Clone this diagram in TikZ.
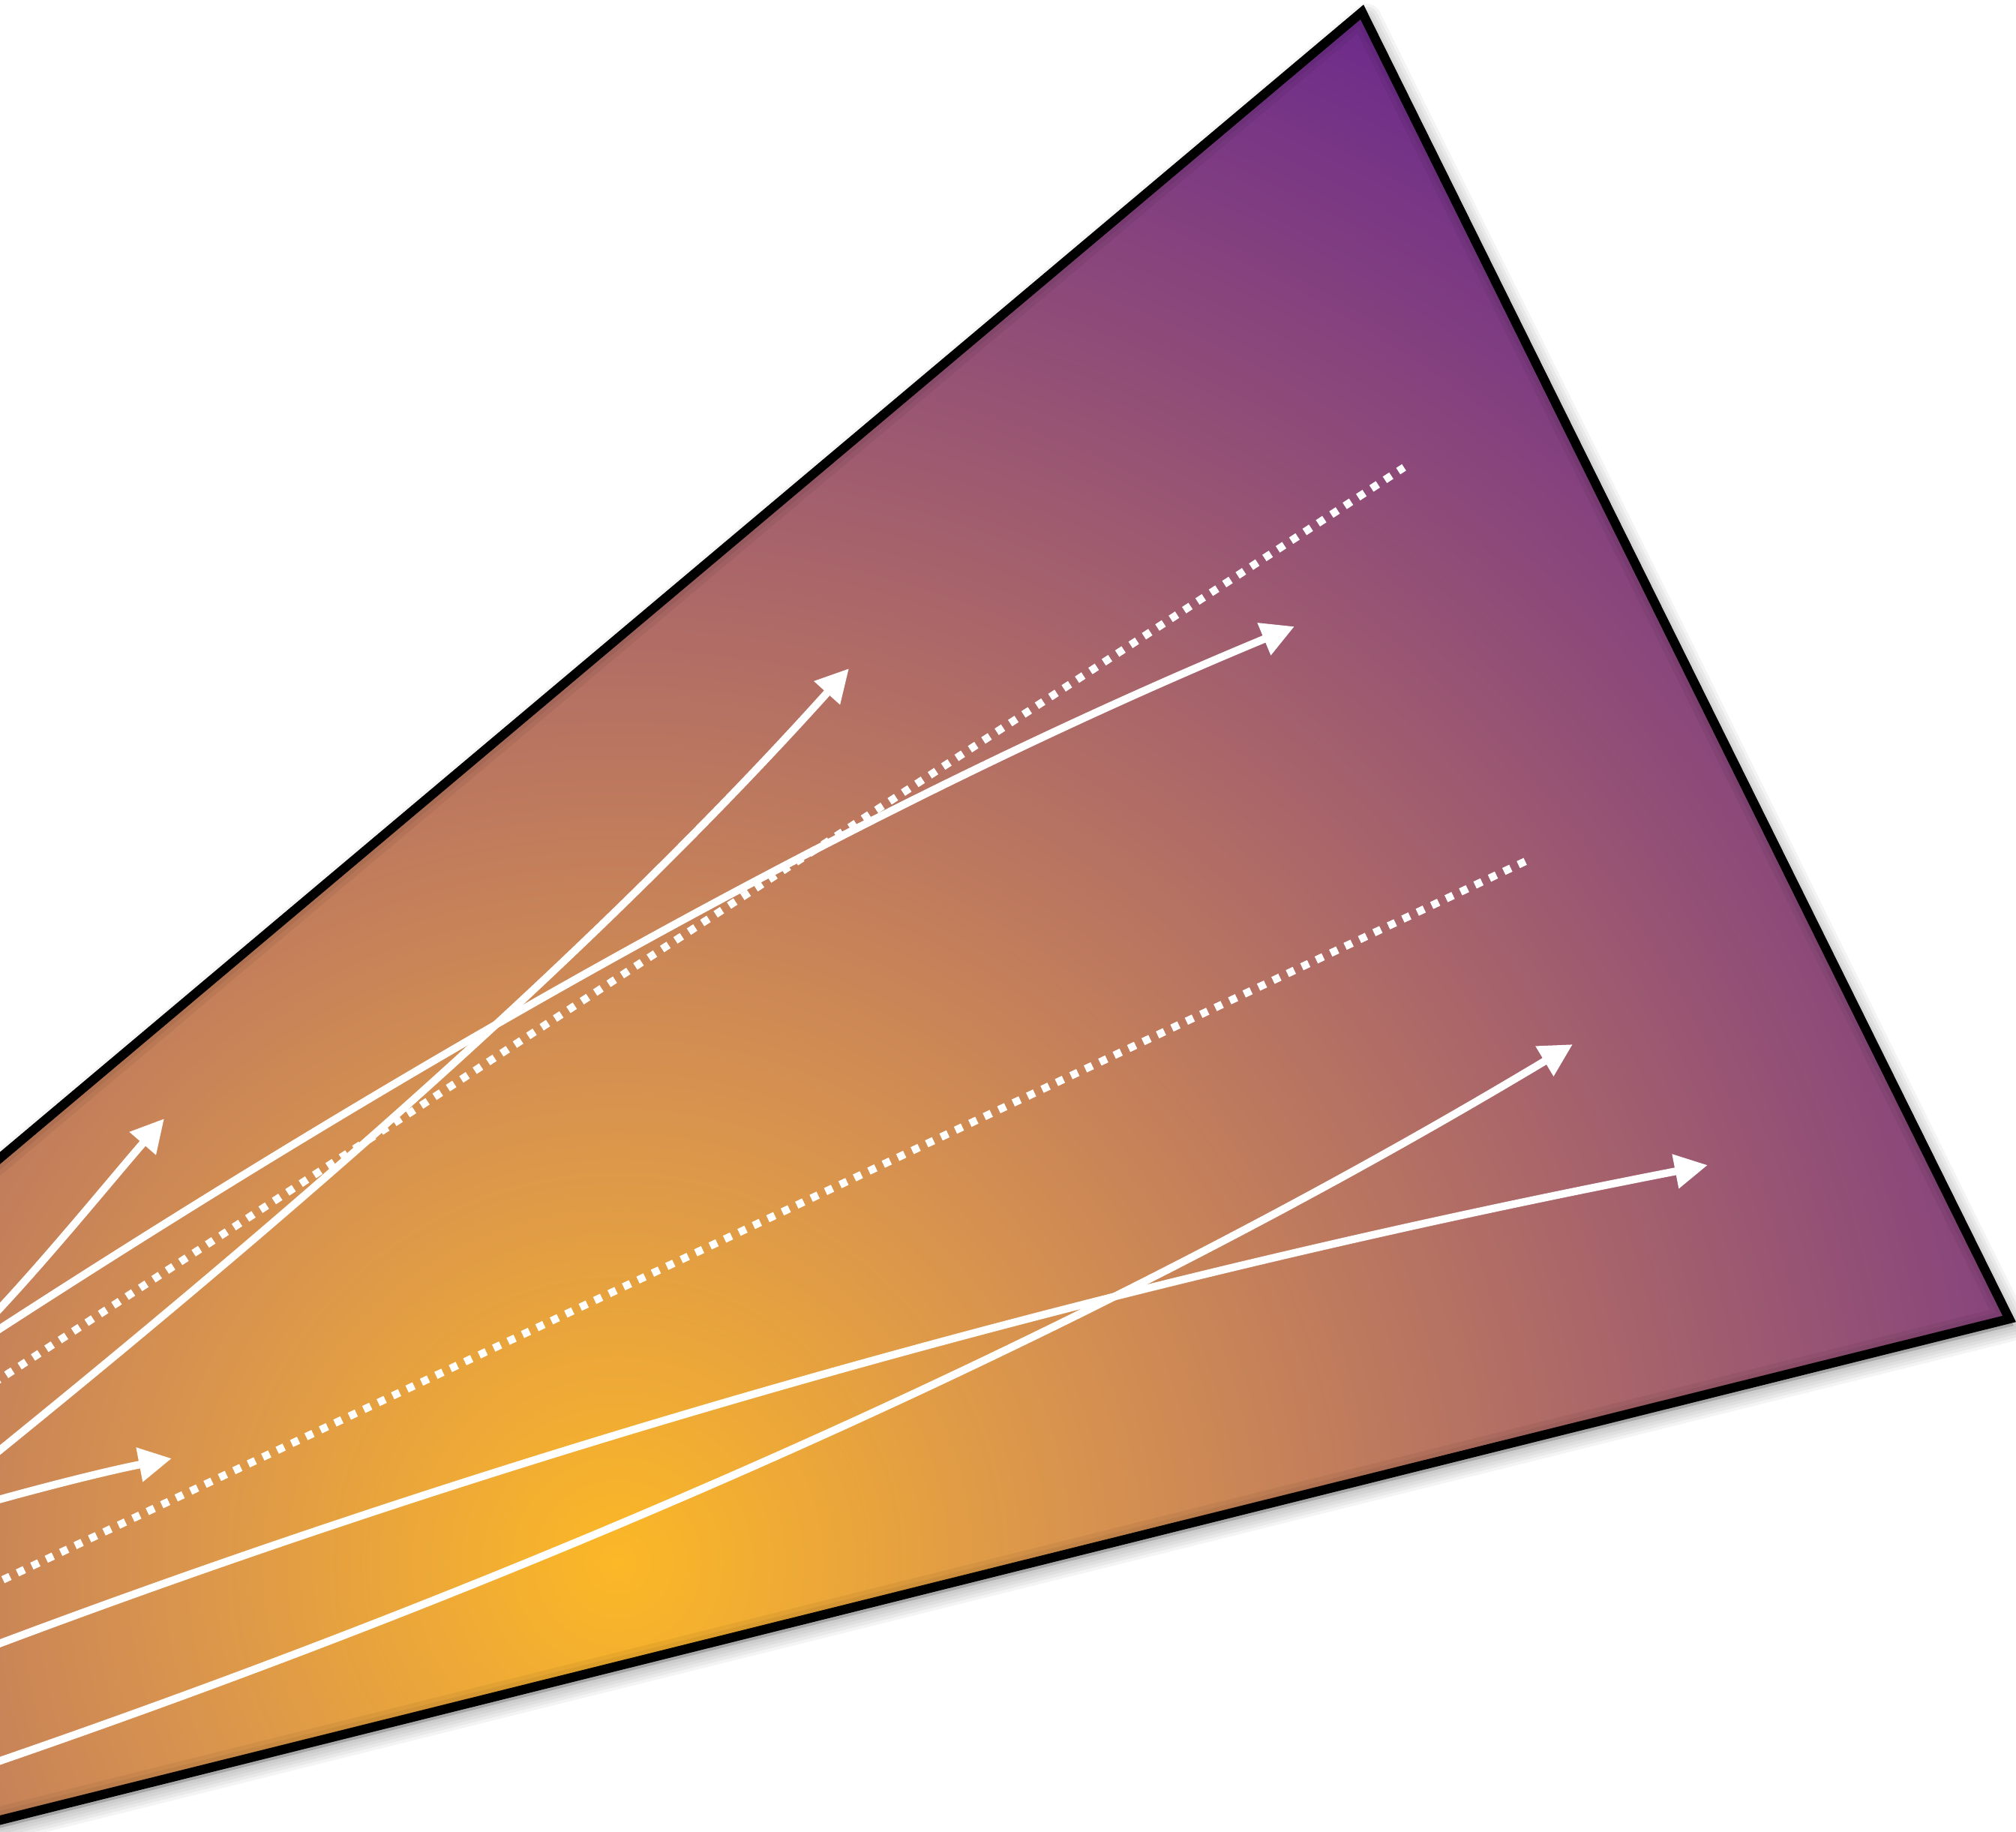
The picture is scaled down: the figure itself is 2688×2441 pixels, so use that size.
\documentclass[tikz,border=0pt]{standalone}
\usetikzlibrary{arrows.meta}
\definecolor{glowyellow}{RGB}{252,184,38}
\definecolor{gloworange}{RGB}{217,148,78}
\definecolor{glowpurple}{RGB}{108,42,140}
\pgfdeclareradialshading{glow}{\pgfpointorigin}{color(0bp)=(glowyellow); color(6.5bp)=(gloworange); color(25bp)=(glowpurple); color(50bp)=(glowpurple)}
\newcommand\myframe[1]{\path[#1] (1816,16) -- (2679,1758) -- (-300,2501) -- (-300,1796) -- cycle;}
\begin{document}
\begin{tikzpicture}[x=0.01cm, y=-0.01cm,
  frame/.style={draw=black, line width=3.5pt, line join=miter},
  ray/.style={draw=white, line width=2.9pt, -{Triangle[length=12.5pt,width=12.5pt]}},
  dotray/.style={draw=white, line width=2.9pt, dash pattern=on 2.9pt off 3.15pt}]
\useasboundingbox (0,0) rectangle (2688,2441);
\clip (0,0) rectangle (2688,2441);
% drop shadow
\begin{scope}[shift={(6,9)}]
  \myframe{fill=black, fill opacity=0.18}
  \foreach \w in {8,16,24,32,40} {\myframe{draw=black, draw opacity=0.045, line width=\w*0.2845pt, line join=round}}
\end{scope}
% gradient body
\begin{scope}
  \myframe{clip}
  \shade[shading=glow] (-1477,-217) rectangle (3123,4383);
  \foreach \w in {12,24,36} {\myframe{draw=black, draw opacity=0.05, line width=\w*0.2845pt}}
\end{scope}
\myframe{frame}
% ray end points
\coordinate (a0) at (-20,1784);   \coordinate (a1) at (1726,835);
\coordinate (b0) at (-20,1949);   \coordinate (b1) at (1132,891);
\coordinate (c0) at (-20,1765);   \coordinate (c1) at (219,1491);
\coordinate (d0) at (-20,2004);   \coordinate (d1) at (229,1944);
\coordinate (e0) at (-20,2354);   \coordinate (e1) at (2097,1392);
\coordinate (f0) at (-20,2198);   \coordinate (f1) at (2277,1553);
\coordinate (g0) at (-20,1851);   \coordinate (g1) at (1872,623);
\coordinate (h0) at (-20,2117);   \coordinate (h1) at (2034,1148);
% dotted rays
\draw[dotray, dash phase=2.5pt] (g0) -- (g1);
\draw[dotray, dash phase=4.55pt] (h0) -- (h1);
% arrows
\draw[ray] (a0) .. controls (530,1427) and (1121,1086) .. (a1);
\draw[ray] (b0) .. controls (379,1626) and (789,1272) .. (b1);
\draw[ray] (c0) .. controls (56,1686) and (147,1574) .. (c1);
\draw[ray] (d0) .. controls (62,1981) and (146,1960) .. (d1);
\draw[ray] (e0) .. controls (720,2100) and (1450,1780) .. (e1);
\draw[ray] (f0) .. controls (717,1920) and (1503,1703) .. (f1);
\end{tikzpicture}
\end{document}
